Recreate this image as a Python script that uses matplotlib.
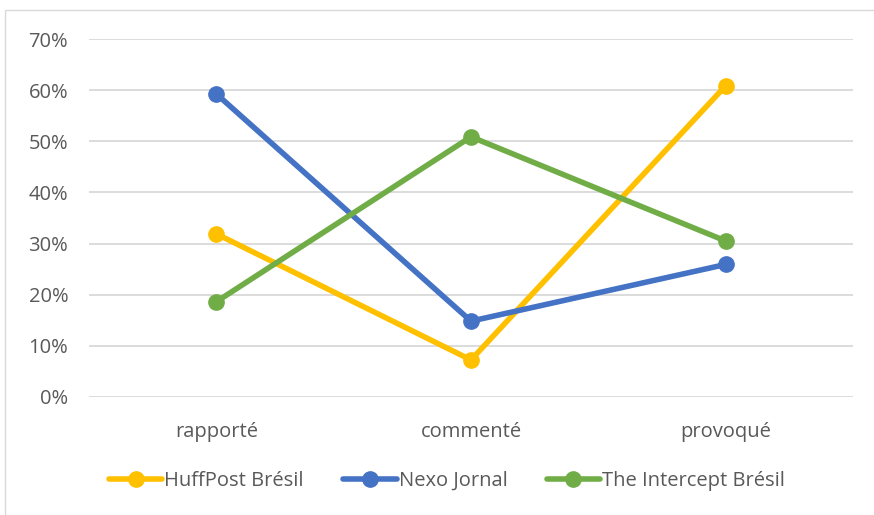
import matplotlib
matplotlib.use("Agg")
import matplotlib.pyplot as plt
from matplotlib.ticker import PercentFormatter
from matplotlib.patches import Rectangle

categories = ["rapporté", "commenté", "provoqué"]
huffpost = [31.9, 7.2, 60.9]
nexo = [59.3, 14.8, 25.9]
intercept = [18.6, 50.9, 30.5]
series_names = ["HuffPost Brésil", "Nexo Jornal", "The Intercept Brésil"]
colors = ["#FFC000", "#4472C4", "#70AD47"]
yticks = [0, 10, 20, 30, 40, 50, 60, 70]

plt.rcParams['font.family'] = ['Open Sans', 'DejaVu Sans']
text_color = "#595959"

fig = plt.figure(figsize=(8.74, 5.15), dpi=100)
fig.patches.append(Rectangle((5/874, 0 - 0.01), 1.0, 1 - 10/515 + 0.01, transform=fig.transFigure,
                             fill=False, edgecolor="#D9D9D9", linewidth=1.0))
ax = fig.add_axes([89/874, 1 - 396.7/515, (853 - 89)/874, (396.7 - 39.3)/515])

x = list(range(len(categories)))
for vals, name, c in zip([huffpost, nexo, intercept], series_names, colors):
    ax.plot(x, vals, color=c, linewidth=4, marker='o', markersize=11,
            solid_capstyle='round', label=name, zorder=3)

ax.set_xlim(-0.5, len(categories) - 0.5)
ax.set_ylim(0, 70)
ax.set_yticks(yticks)
ax.yaxis.set_major_formatter(PercentFormatter(decimals=0))
ax.set_xticks(x)
ax.set_xticklabels(categories)
ax.grid(axis='y', color="#D9D9D9", linewidth=1.3)
ax.set_axisbelow(True)
for s in ax.spines.values():
    s.set_visible(False)
ax.tick_params(axis='both', length=0, labelsize=14.5, colors=text_color)
ax.tick_params(axis='y', pad=15)
ax.tick_params(axis='x', pad=18)

leg = fig.legend(loc='center', bbox_to_anchor=(447/874, 1 - 481/515), ncol=3, frameon=False,
                 fontsize=14.5, handlelength=2.65, columnspacing=1.95, handletextpad=0.1)
for t in leg.get_texts():
    t.set_color(text_color)

fig.savefig("out.png", dpi=100)
